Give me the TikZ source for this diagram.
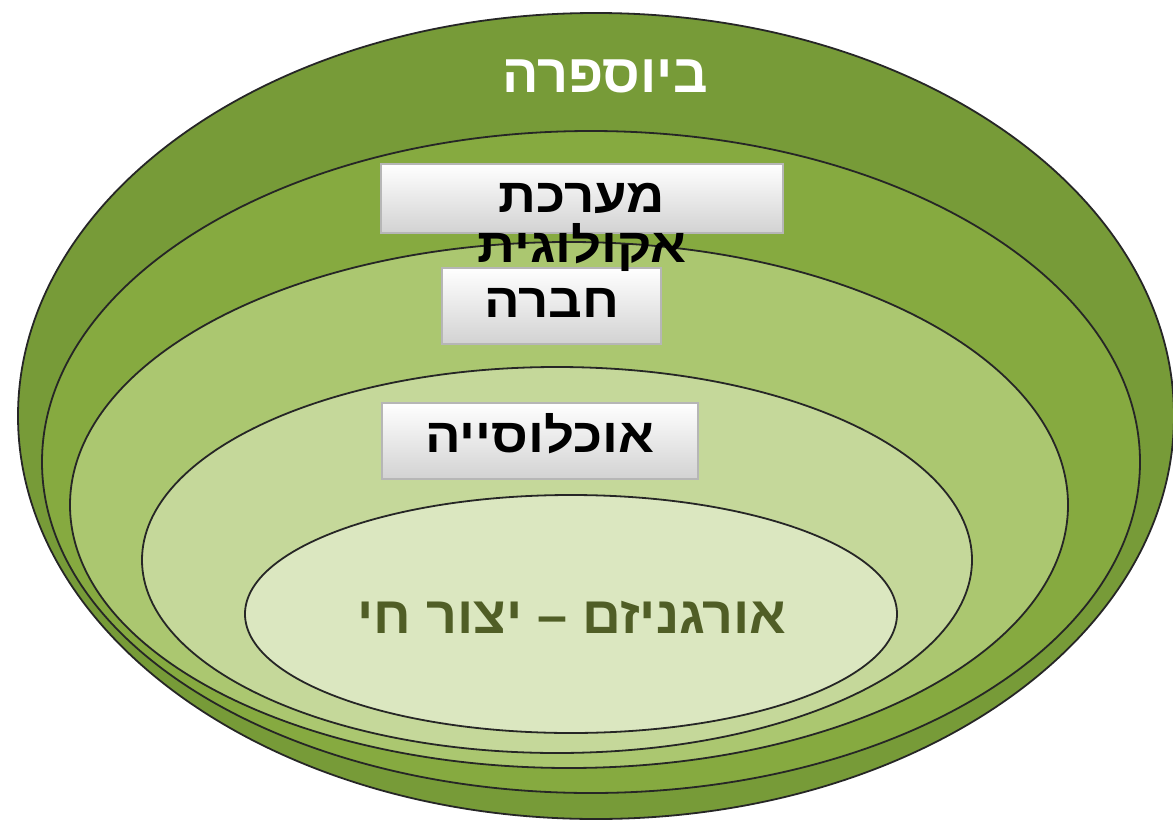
\documentclass[tikz,border=0pt]{standalone}
\usepackage{fontspec}
\setmainfont{Liberation Sans}
\newfontfamily\heb[Script=Hebrew]{Liberation Sans Bold}
\TeXXeTstate=1
\definecolor{ringA}{RGB}{119,155,56}
\definecolor{ringB}{RGB}{134,170,64}
\definecolor{ringC}{RGB}{171,199,112}
\definecolor{ringD}{RGB}{197,216,154}
\definecolor{ringE}{RGB}{219,231,192}
\definecolor{boxline}{RGB}{182,182,182}
\definecolor{boxbot}{RGB}{210,210,210}
\definecolor{orgtext}{RGB}{80,94,38}
\begin{document}
\begin{tikzpicture}[x=1pt,y=-1pt,
  ring/.style={draw=black!85, line width=1.8pt},
  labelbox/.style={draw=boxline, line width=1.5pt, top color=white, bottom color=boxbot, inner sep=0pt},
  boxtext/.style={anchor=base, inner sep=0pt, font=\heb\fontsize{48}{50}\selectfont, text=black, xscale=1.1}]
\useasboundingbox (0,0) rectangle (1173,822);
\fill[white] (0,0) rectangle (1173,822);
% nested ellipses
\path[ring, fill=ringA] (596,416) ellipse [x radius=578pt, y radius=403pt];
\path[ring, fill=ringB] (591,462) ellipse [x radius=549pt, y radius=331pt];
\path[ring, fill=ringC] (569,505) ellipse [x radius=499pt, y radius=263pt];
\path[ring, fill=ringD] (557,560) ellipse [x radius=415pt, y radius=193pt];
\path[ring, fill=ringE] (571,614) ellipse [x radius=326pt, y radius=119pt];
% boxes
\node[labelbox, minimum width=402pt, minimum height=69pt] (eco) at (582,198.5) {};
\node[labelbox, minimum width=219pt, minimum height=76pt] (com) at (551.5,306) {};
\node[labelbox, minimum width=316pt, minimum height=76pt] (pop) at (540,441) {};
% texts
\node[anchor=base, inner sep=0pt, text=white, font=\heb\fontsize{54}{60}\selectfont] (bio) at (605,92) {\beginR ביוספרה\endR};
\node[boxtext] (ecoa) at (582,212) {\beginR מערכת\endR};
\node[boxtext] (ecob) at (582,262) {\beginR אקולוגית\endR};
\node[boxtext] (comt) at (552,317) {\beginR חברה\endR};
\node[boxtext] (popt) at (540,452) {\beginR אוכלוסייה\endR};
\node[anchor=base, inner sep=0pt, text=orgtext, font=\heb\fontsize{52}{60}\selectfont, xscale=1.035] (org) at (572,633) {\beginR אורגניזם – יצור חי\endR};
\end{tikzpicture}
\end{document}
